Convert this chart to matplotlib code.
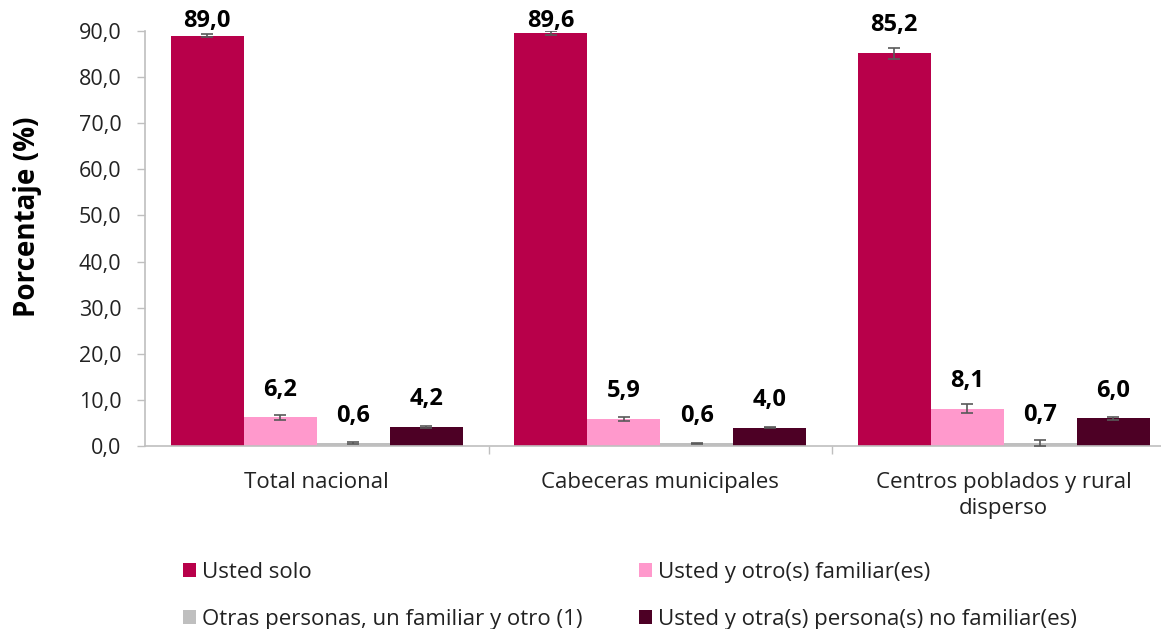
import matplotlib
matplotlib.use("Agg")
import matplotlib.pyplot as plt
import numpy as np

plt.rcParams['font.family'] = ['Open Sans', 'DejaVu Sans']

categories = ["Total nacional", "Cabeceras municipales", "Centros poblados y rural\ndisperso"]
series = ["Usted solo", "Usted y otro(s) familiar(es)",
          "Otras personas, un familiar y otro (1)", "Usted y otra(s) persona(s) no familiar(es)"]
values = [
    [89.0, 89.6, 85.2],
    [6.2, 5.9, 8.1],
    [0.6, 0.6, 0.7],
    [4.2, 4.0, 6.0],
]
errors = [
    [0.4, 0.4, 1.2],
    [0.5, 0.4, 1.0],
    [0.2, 0.1, 0.6],
    [0.2, 0.2, 0.3],
]
labels_txt = [["89,0", "89,6", "85,2"], ["6,2", "5,9", "8,1"], ["0,6", "0,6", "0,7"], ["4,2", "4,0", "6,0"]]
colors = ["#B8004A", "#FF99CC", "#BFBFBF", "#4D0025"]
yticks = [0, 10, 20, 30, 40, 50, 60, 70, 80, 90]

W, H = 1161, 629
fig = plt.figure(figsize=(W / 100, H / 100), dpi=100)
ax_left, ax_right = 145, 1161
ax_bottom, ax_top = 446, 31
ax = fig.add_axes([ax_left / W, (H - ax_bottom) / H, (ax_right - ax_left) / W, (ax_bottom - ax_top) / H])

cat_w = 343.5
x = np.arange(len(categories))
bw = 73 / cat_w
offsets = (np.arange(4) - 1.5) * bw
handles = []
for i in range(4):
    b = ax.bar(x + offsets[i], values[i], width=bw, color=colors[i], label=series[i], zorder=2)
    handles.append(b)
    ax.errorbar(x + offsets[i], values[i], yerr=errors[i], fmt='none', ecolor='#595959',
                elinewidth=1.2, capsize=4, capthick=1.2, zorder=3)
    for j in range(3):
        ylab = min(values[i][j] + 3.4, 89.6)
        ax.text(x[j] + offsets[i], ylab, labels_txt[i][j], ha='center', va='bottom',
                fontsize=17, fontweight='bold', color='black', clip_on=False, zorder=4)

ax.set_xlim(-0.5, -0.5 + (ax_right - ax_left) / cat_w)
ax.set_ylim(0, 90)
ax.set_yticks(yticks)
ax.set_yticklabels([f"{v:.1f}".replace('.', ',') for v in yticks], fontsize=15.5, color='#222222')
ax.set_xticks(x)
ax.set_xticklabels(categories, fontsize=16, color='#222222', linespacing=1.3)
ax.tick_params(axis='x', length=0, pad=19)
ax.set_xticks([0.5, 1.5], minor=True)
ax.tick_params(axis='x', which='minor', length=6, color='#BFBFBF', width=1)
ax.tick_params(axis='y', length=6, color='#BFBFBF', width=1, pad=11)
for s in ['top', 'right']:
    ax.spines[s].set_visible(False)
ax.spines['left'].set_color('#BFBFBF')
ax.spines['bottom'].set_color('#BFBFBF')
ax.spines['left'].set_linewidth(1.2)
ax.spines['bottom'].set_linewidth(1.2)
ax.set_ylabel("Porcentaje (%)", fontsize=20, fontweight='bold')
ax.yaxis.set_label_coords(-(ax_left - 28) / (ax_right - ax_left), (ax_bottom - 217) / (ax_bottom - ax_top))
ax.yaxis.label.set_va('center')

order = [0, 2, 1, 3]
leg = fig.legend([handles[k] for k in order], [series[k] for k in order], ncol=2,
                 loc='upper left', bbox_to_anchor=(183 / W, 1 - 562 / H), frameon=False,
                 fontsize=16, handlelength=0.6, handleheight=0.6, handletextpad=0.25,
                 labelspacing=1.18, columnspacing=2.55, borderaxespad=0, borderpad=0)
for t in leg.get_texts():
    t.set_color('#222222')

fig.savefig("out.png", dpi=100)
